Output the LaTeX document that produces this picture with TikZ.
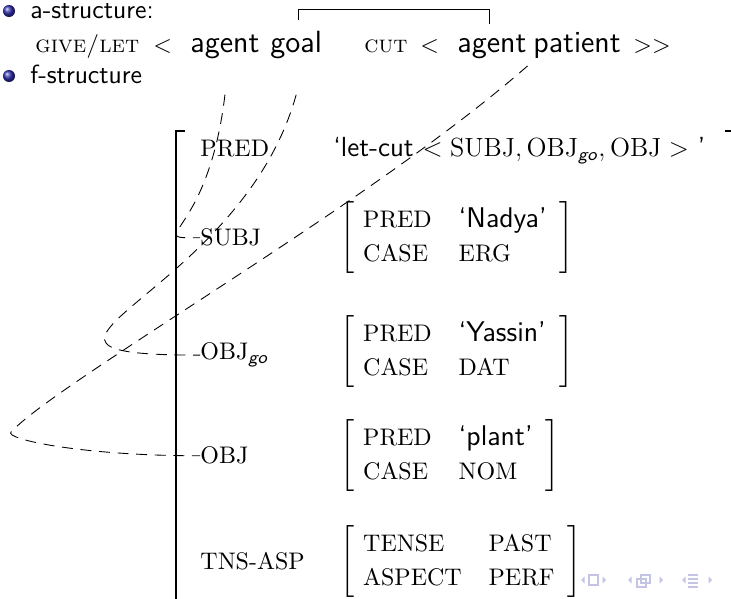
\documentclass[tikz,border=0pt]{standalone}
\usepackage{amsmath}
\usepackage{amssymb}
\usepackage{xcolor}
\usetikzlibrary{positioning}

\definecolor{ballblue}{RGB}{51,51,179}
\definecolor{navcol}{RGB}{196,196,228}

\newcommand{\fsavm}[1]{$\renewcommand{\arraystretch}{1.14}\left[\begin{array}{@{\hspace{4pt}}l@{\hspace{12.3pt}}l@{\hspace{6pt}}}#1\end{array}\right]$}
\newcommand{\fsval}[1]{\text{\fontsize{13}{15.5}\selectfont\sffamily #1}}
\newcommand{\fsgo}{\textsf{\itshape go}}

\tikzset{
  txt/.style={inner sep=0pt, font=\fontsize{12}{14.5}\selectfont\sffamily},
  word/.style={inner sep=0pt, font=\fontsize{14}{17}\selectfont\sffamily},
  att/.style={inner sep=0pt, font=\fontsize{10.95}{13.6}\selectfont\rmfamily},
  sc/.style={inner sep=0pt, font=\fontsize{10.95}{13.6}\selectfont\rmfamily\scshape},
  link/.style={dash pattern=on 5pt off 3.5pt, line width=0.4pt},
  brk/.style={line width=0.9pt},
}

\begin{document}
\begin{tikzpicture}[x=0.4566pt, y=-0.4566pt]
      \useasboundingbox (0,0) rectangle (731,599);

      % Define the bullet lines
      \shade[ball color=ballblue] (9,11) circle (2.75pt);
      \shade[ball color=ballblue] (9,76) circle (2.75pt);
      \node[txt, anchor=base west] (astr) at (30,19) {a-structure:};
      \node[txt, anchor=base west] (fstr) at (30,84) {f-structure};

      % Define the nodes of the a-structure
      \node[sc, anchor=base west] (gl) at (35,53) {give/let};
      \node[att, anchor=base west] (lt1) at (153,53) {$<$};
      \node[word, anchor=base west] (ag1) at (190,53) {agent};
      \node[word, anchor=base west] (goal) at (270,53) {goal};
      \node[sc, anchor=base west] (cut) at (364,53) {cut};
      \node[att, anchor=base west] (lt2) at (420,53) {$<$};
      \node[word, anchor=base west] (ag2) at (457,53) {agent};
      \node[word, anchor=base west] (pat) at (533,53) {patient};
      \node[att, anchor=base west] (gt) at (633,53) {$>>$};

      % Draw the bracket between goal and agent
      \draw ([xshift=1pt,yshift=5pt]goal.north) -- ++(0,-11) -| ([xshift=-1pt,yshift=5pt]ag2.north);

      % Define the attributes of the f-structure
      \node[att, anchor=base west] (pred) at (200,157) {PRED};
      \node[att, anchor=base west] (subj) at (200,246) {SUBJ};
      \node[att, anchor=base west] (objgo) at (200,360) {OBJ$_{\text{\fsgo}}$};
      \node[att, anchor=base west] (objl) at (200,464) {OBJ};
      \node[att, anchor=base west] (tnsasp) at (200,570) {TNS-ASP};

      % Define the values of the f-structure
      \node[txt, font=\fontsize{12.6}{15}\selectfont\sffamily, anchor=base west] (predval) at (333,157)
        {`let-cut {\fontsize{12}{14.5}\selectfont$<\mathrm{SUBJ},\mathrm{OBJ}_{\text{\fsgo}},\mathrm{OBJ}>$} '};
      \node[att, anchor=west] (nadya) at (340,238)
        {\fsavm{\mathrm{PRED} & \fsval{`Nadya'} \\ \mathrm{CASE} & \mathrm{ERG}}};
      \node[att, anchor=west] (yassin) at (340,352)
        {\fsavm{\mathrm{PRED} & \fsval{`Yassin'} \\ \mathrm{CASE} & \mathrm{DAT}}};
      \node[att, anchor=west] (plant) at (340,456)
        {\fsavm{\mathrm{PRED} & \fsval{`plant'} \\ \mathrm{CASE} & \mathrm{NOM}}};
      \node[att, anchor=west] (tense) at (340,562)
        {\fsavm{\mathrm{TENSE} & \mathrm{PAST} \\ \mathrm{ASPECT} & \mathrm{PERF}}};

      % Draw the outer brackets
      \draw[brk] (185,131) -- (176,131) -- (176,640);
      \draw[brk] (725,131) -- (736,131) -- (736,640);

      % Draw the links from the a-structure to the f-structure
      \coordinate (bend) at (11,432);
      \draw[link] ([yshift=-16pt]ag1.south) .. controls +(-17,145) and +(-59,0) .. (subj.west);
      \draw[link] ([yshift=-16pt]goal.south) .. controls +(-57,205) and +(-239,0) .. (objgo.west);
      \draw[link] ([xshift=-2.5pt,yshift=-3pt]pat.south west) .. controls +(-160,140) and +(49,-52) .. (bend)
        .. controls +(-7,7) and +(-119,0) .. (objl.west);

      % Navigation symbols
      \foreach \x in {581,628,682}
        \fill[navcol] (\x,580) -- ++(3.5,-3.5) -- ++(0,7) -- cycle;
      \foreach \x in {606,663,712}
        \fill[navcol] (\x,580) -- ++(-3.5,-3.5) -- ++(0,7) -- cycle;
      \draw[navcol, line width=0.5pt] (589,575) rectangle (598,585);
      \draw[navcol, line width=0.5pt] (637,579) rectangle (646,587);
      \draw[navcol, line width=0.5pt] (641,575) rectangle (650,583);
      \draw[navcol, line width=0.5pt] (688,575) -- (698,575) (688,579) -- (698,579)
        (688,583) -- (698,583) (688,587) -- (698,587);
\end{tikzpicture}
\end{document}
